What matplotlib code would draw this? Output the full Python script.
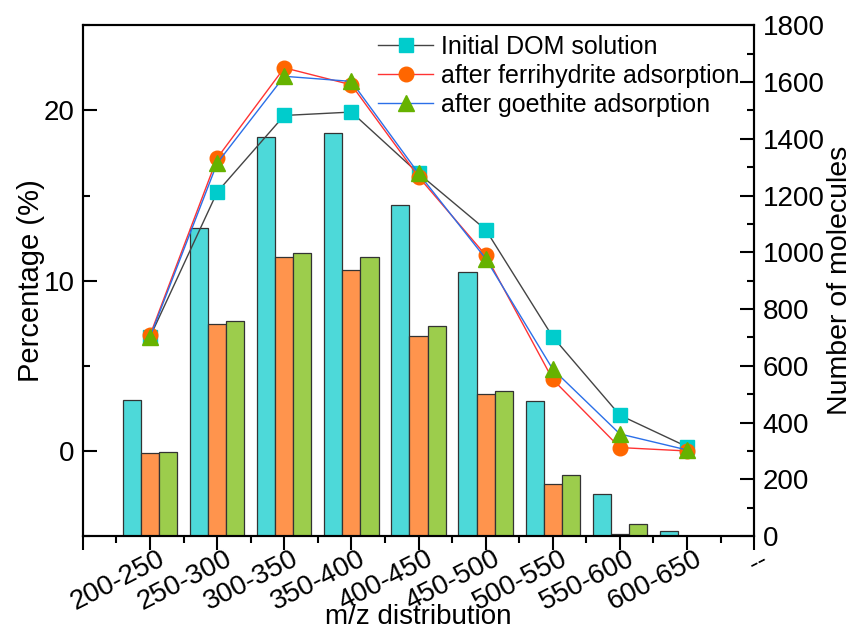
import numpy as np
import matplotlib
matplotlib.use("Agg")
import matplotlib.pyplot as plt
from matplotlib.ticker import MultipleLocator
from matplotlib.transforms import ScaledTranslation

plt.rcParams["font.family"] = ["Liberation Sans", "DejaVu Sans"]

categories = ["200-250", "250-300", "300-350", "350-400", "400-450",
              "450-500", "500-550", "550-600", "600-650"]
series_names = ["Initial DOM solution", "after ferrihydrite adsorption",
                "after goethite adsorption"]

# number of molecules (bars, right axis)
count_initial = [479, 1084, 1407, 1421, 1168, 931, 475, 150, 18]
count_ferri = [293, 749, 982, 939, 704, 500, 183, 7, 0]
count_goe = [297, 758, 997, 985, 740, 510, 214, 42, 2]

# percentage (lines, left axis)
pct_initial = [6.7, 15.2, 19.7, 19.9, 16.3, 13.0, 6.7, 2.1, 0.25]
pct_ferri = [6.8, 17.2, 22.5, 21.5, 16.1, 11.5, 4.2, 0.2, 0.0]
pct_goe = [6.7, 16.9, 22.0, 21.7, 16.3, 11.3, 4.8, 1.0, 0.06]

bar_colors = ["#4DD9D9", "#FF944D", "#9CCD4C"]
marker_colors = ["#00CCCC", "#FF6600", "#66B200"]
line_colors = ["#444444", "#FF3333", "#2B6FE8"]

fig = plt.figure(figsize=(8.55, 6.3), dpi=100)
ax = fig.add_axes([0.097, 0.149, 0.785, 0.811])
ax2 = ax.twinx()

x = np.arange(1, len(categories) + 1)
w = 0.27
for i, counts in enumerate([count_initial, count_ferri, count_goe]):
    xs = x + (i - 1) * w
    # faint shadow behind bars
    ax2.bar(xs + 0.015, counts, width=w, color="#AAAAAA", edgecolor="none", zorder=1)
    ax2.bar(xs, counts, width=w, color=bar_colors[i], edgecolor="#333333",
            linewidth=0.9, zorder=2)

ax2.set_ylim(0, 1800)
ax2.yaxis.set_major_locator(MultipleLocator(200))
ax2.yaxis.set_minor_locator(MultipleLocator(100))
ax2.tick_params(axis="y", which="major", direction="in", length=10, width=1.5,
                labelsize=20, pad=6)
ax2.tick_params(axis="y", which="minor", direction="in", length=5, width=1.5)
ax2.set_ylabel("Number of molecules", fontsize=20.5, ha="center", va="center")
ax2.yaxis.set_label_coords(1.128, 0.5)

ax.set_zorder(ax2.get_zorder() + 1)
ax.patch.set_visible(False)

markers = ["s", "o", "^"]
msizes = [9.5, 10.5, 11]
for i, pct in enumerate([pct_initial, pct_ferri, pct_goe]):
    ax.plot(x, pct, color=line_colors[i], linewidth=1, marker=markers[i],
            markersize=msizes[i], markerfacecolor=marker_colors[i],
            markeredgecolor=marker_colors[i], label=series_names[i])

ax.set_xlim(0, 10)
ax.set_ylim(-5, 25)
ax.yaxis.set_major_locator(MultipleLocator(10))
ax.yaxis.set_minor_locator(MultipleLocator(5))
ax.tick_params(axis="y", which="major", direction="in", length=10, width=1.5,
               labelsize=20, pad=6)
ax.tick_params(axis="y", which="minor", direction="in", length=5, width=1.5)
ax.set_ylabel("Percentage (%)", fontsize=21, ha="center", va="center")
ax.yaxis.set_label_coords(-0.077, 0.5)

ax.set_xticks(np.arange(0, 11))
ax.set_xticklabels([""] + categories + ["--"], rotation=27, ha="right",
                   rotation_mode="anchor", fontsize=20)
ax.set_xticks(np.arange(0.5, 10, 1), minor=True)
ax.tick_params(axis="x", which="major", direction="out", length=10, width=1.5, pad=0)
ax.tick_params(axis="x", which="minor", direction="out", length=5, width=1.5)
shift = ScaledTranslation(0.07, 0.04, fig.dpi_scale_trans)
for lab in ax.get_xticklabels():
    lab.set_transform(lab.get_transform() + shift)
ax2.tick_params(axis="x", which="both", length=0)
ax.set_xlabel("m/z distribution", fontsize=20, va="baseline")
ax.xaxis.set_label_coords(0.5, -0.172)

for a in (ax, ax2):
    for s in a.spines.values():
        s.set_linewidth(1.5)

ax.legend(loc="upper right", bbox_to_anchor=(1.0, 1.01), frameon=False,
          fontsize=18, handlelength=2.2, handletextpad=0.3, labelspacing=0.2,
          borderaxespad=0.2)

fig.savefig("out.png", dpi=100)
